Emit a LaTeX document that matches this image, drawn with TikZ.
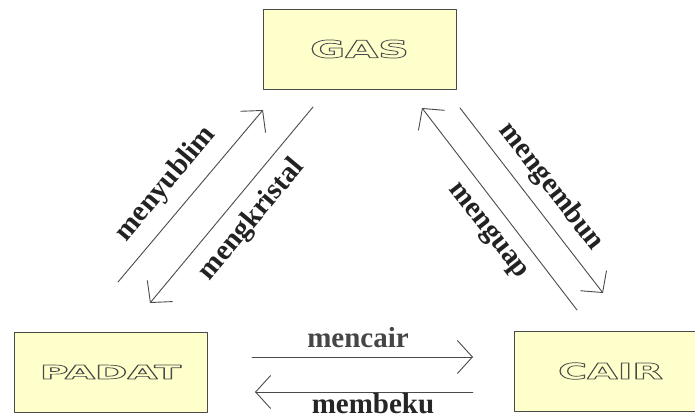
\documentclass[tikz,border=0pt]{standalone}
\usepackage{fontspec}
\setmainfont{Liberation Serif}
\newfontfamily\boxfont{DejaVu Sans}
\usepackage{graphicx}
\usetikzlibrary{arrows.meta}
\definecolor{boxfill}{HTML}{FFFFCC}
\definecolor{lineclr}{HTML}{4A4A4A}
\definecolor{txtclr}{HTML}{222222}
% hollow letters: stroke the glyph outlines only
\newcommand{\PhaseName}[3]{\scalebox{#2}[1]{\fontsize{#1}{#1}\selectfont\boxfont\bfseries\color{lineclr}\special{pdf:code 1 Tr 0.7 w}#3\special{pdf:code 0 Tr}}}

\begin{document}
\begin{tikzpicture}[line cap=round,line join=round,>={Straight Barb[length=15pt,width=33pt]},x=1pt,y=-1pt]
  \useasboundingbox (0,0) rectangle (695,419);
  \tikzset{phase/.style={draw=lineclr,fill=boxfill,line width=0.9pt,minimum width=193pt,minimum height=80pt,inner sep=0pt},
    lbl/.style={inner sep=0pt,text=txtclr,font=\fontsize{29}{32}\selectfont\bfseries},
    flow/.style={->,draw=lineclr,line width=0.9pt}}
  % the three phases
  \node[phase] (gas) at (359.5,49) {\PhaseName{24}{1.78}{GAS}};
  \node[phase] (padat) at (110.5,372) {\PhaseName{19}{2.05}{PADAT}};
  \node[phase] (cair) at (610.5,371) {\PhaseName{22}{1.8}{CAIR}};
  % arrow ends
  \coordinate (sub1) at (118,282); \coordinate (sub2) at (263,110);
  \coordinate (kri1) at (313,107); \coordinate (kri2) at (150,303);
  \coordinate (uap1) at (577,310); \coordinate (uap2) at (422,108);
  \coordinate (emb1) at (460,108); \coordinate (emb2) at (603,293);
  \coordinate (cai1) at (252,357); \coordinate (cai2) at (473,357);
  \coordinate (bek1) at (473,392); \coordinate (bek2) at (255,392);
  \draw[flow] (sub1) -- (sub2);
  \draw[flow] (kri1) -- (kri2);
  \draw[flow] (uap1) -- (uap2);
  \draw[flow] (emb1) -- (emb2);
  \draw[flow] (cai1) -- (cai2);
  \draw[flow] (bek1) -- (bek2);
  % labels
  \node[lbl,rotate=50] (tsub) at (166,184) {menyublim};
  \node[lbl,rotate=50] (tkri) at (252,220) {mengkristal};
  \node[lbl,rotate=-52] (temb) at (551,187) {mengembun};
  \node[lbl,rotate=-52] (tuap) at (487,232) {menguap};
  \node[lbl,text=gray!55!black] (tcai) at (358,338) {mencair};
  \node[lbl,text=gray!30!black] (tbek) at (373,404) {membeku};
\end{tikzpicture}
\end{document}
